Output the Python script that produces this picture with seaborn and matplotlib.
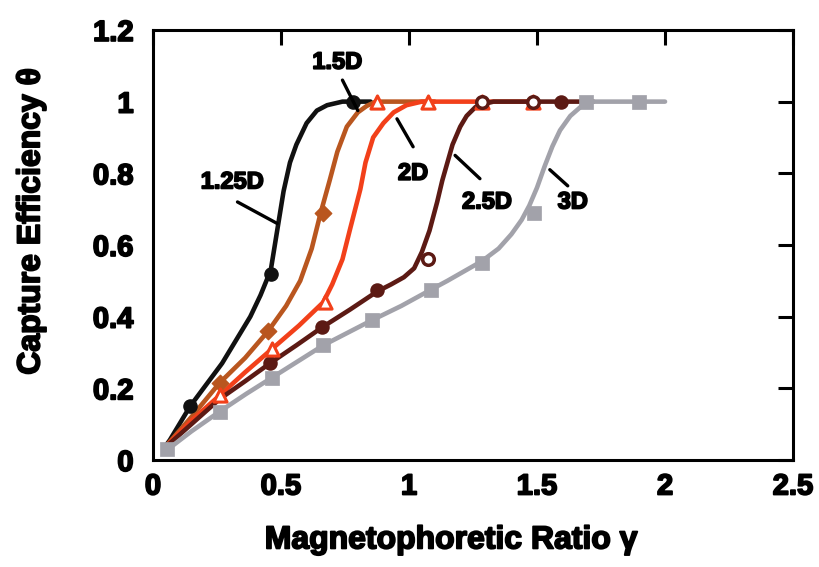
import matplotlib
matplotlib.use("Agg")
import matplotlib.pyplot as plt
import matplotlib.patheffects as pe
import seaborn as sns
import pandas as pd

# ---- data ----
series_names = ["1.25D", "1.5D", "2D", "2.5D", "3D"]
series_colors = ["#111111", "#b9561f", "#f2401a", "#5c1a14", "#a2a2aa"]

# fitted curves
curve_125_x = [0.04, 0.066, 0.145, 0.27, 0.38, 0.42, 0.46, 0.485, 0.51, 0.535, 0.56, 0.60, 0.64, 0.68, 0.74, 0.85]
curve_125_y = [0.03, 0.056, 0.15, 0.27, 0.40, 0.46, 0.53, 0.64, 0.75, 0.83, 0.88, 0.94, 0.975, 0.99, 1.0, 1.0]
curve_15_x = [0.04, 0.15, 0.26, 0.36, 0.45, 0.52, 0.575, 0.62, 0.655, 0.69, 0.72, 0.757, 0.80, 0.835, 0.87, 1.1]
curve_15_y = [0.03, 0.12, 0.215, 0.285, 0.36, 0.43, 0.50, 0.59, 0.69, 0.78, 0.86, 0.93, 0.97, 0.988, 1.0, 1.0]
curve_2_x = [0.04, 0.15, 0.26, 0.36, 0.465, 0.57, 0.665, 0.70, 0.74, 0.77, 0.81, 0.83, 0.86, 0.90, 0.94, 0.99, 1.05, 1.5]
curve_2_y = [0.03, 0.11, 0.18, 0.245, 0.31, 0.375, 0.44, 0.49, 0.56, 0.645, 0.756, 0.83, 0.90, 0.94, 0.97, 0.99, 1.0, 1.0]
curve_25_x = [0.04, 0.15, 0.26, 0.36, 0.457, 0.56, 0.66, 0.77, 0.875, 0.93, 0.98, 1.02, 1.05, 1.08, 1.11, 1.13, 1.17, 1.20, 1.225, 1.26, 1.29, 1.33, 1.72]
curve_25_y = [0.03, 0.10, 0.17, 0.22, 0.27, 0.32, 0.37, 0.42, 0.47, 0.49, 0.51, 0.535, 0.58, 0.64, 0.72, 0.78, 0.88, 0.93, 0.96, 0.985, 0.993, 1.0, 1.0]
curve_3_x = [0.04, 0.15, 0.26, 0.365, 0.465, 0.565, 0.665, 0.76, 0.855, 0.97, 1.085, 1.15, 1.285, 1.35, 1.40, 1.44, 1.47, 1.50, 1.53, 1.56, 1.59, 1.63, 1.67, 1.72, 2.0]
curve_3_y = [0.02, 0.08, 0.135, 0.185, 0.23, 0.275, 0.32, 0.355, 0.39, 0.43, 0.475, 0.50, 0.555, 0.59, 0.63, 0.67, 0.71, 0.76, 0.82, 0.875, 0.92, 0.96, 0.985, 1.0, 1.0]

# data markers
pts_125_x = [0.145, 0.46, 0.78]
pts_125_y = [0.15, 0.52, 1.0]
pts_15_x = [0.26, 0.45, 0.665]
pts_15_y = [0.215, 0.36, 0.69]
pts_2_x = [0.26, 0.465, 0.67, 0.875, 1.075, 1.285, 1.485]
pts_2_y = [0.18, 0.31, 0.44, 1.0, 1.0, 1.0, 1.0]
pts_25_filled_x = [0.457, 0.66, 0.875, 1.595]
pts_25_filled_y = [0.27, 0.37, 0.475, 1.0]
pts_25_open_x = [1.075, 1.285, 1.485]
pts_25_open_y = [0.56, 1.0, 1.0]
pts_3_x = [0.055, 0.26, 0.465, 0.665, 0.855, 1.085, 1.285, 1.49, 1.69, 1.90]
pts_3_y = [0.03, 0.135, 0.23, 0.32, 0.39, 0.475, 0.55, 0.69, 1.0, 1.0]

# labels with leader lines: text position, line start, line end
label_text = ["1.25D", "1.5D", "2D", "2.5D", "3D"]
label_xy = [(0.31, 0.776), (0.72, 1.11), (1.016, 0.80), (1.305, 0.72), (1.64, 0.72)]
leader_from = [(0.33, 0.72), (0.74, 1.06), (0.953, 0.952), (1.18, 0.85), (1.55, 0.81)]
leader_to = [(0.485, 0.66), (0.80, 0.975), (1.016, 0.874), (1.277, 0.785), (1.62, 0.765)]

x_ticks = [0, 0.5, 1, 1.5, 2, 2.5]
x_ticklabels = ["0", "0.5", "1", "1.5", "2", "2.5"]
y_ticks = [0, 0.2, 0.4, 0.6, 0.8, 1.0, 1.2]
y_ticklabels = ["0", "0.2", "0.4", "0.6", "0.8", "1", "1.2"]

# ---- plotting ----
sns.set_theme(style="white")
plt.rcParams["font.family"] = ["Liberation Sans", "DejaVu Sans"]
plt.rcParams["font.weight"] = "bold"
plt.rcParams["text.color"] = "black"
plt.rcParams["axes.labelcolor"] = "black"

heavy = [pe.withStroke(linewidth=1.3, foreground="black")]

fig = plt.figure(figsize=(8.2, 5.67), dpi=100)
ax = fig.add_axes([0.1866, 0.1887, 0.7805, 0.7585])

curves = [(curve_125_x, curve_125_y), (curve_15_x, curve_15_y), (curve_2_x, curve_2_y),
          (curve_25_x, curve_25_y), (curve_3_x, curve_3_y)]
draw_order = [4, 3, 1, 2, 0]
for i in draw_order:
    cx, cy = curves[i]
    df = pd.DataFrame({"x": cx, "y": cy})
    sns.lineplot(data=df, x="x", y="y", sort=False, ax=ax, color=series_colors[i],
                 linewidth=3.3, solid_joinstyle="round", solid_capstyle="round", zorder=2 + i * 0.1)

def scatter(xs, ys, marker, size, face, edge, lw, z):
    df = pd.DataFrame({"x": xs, "y": ys})
    sns.scatterplot(data=df, x="x", y="y", ax=ax, marker=marker, s=size,
                    color=face, edgecolor=edge, linewidth=lw, zorder=z)

scatter(pts_3_x, pts_3_y, "s", 110, series_colors[4], series_colors[4], 0.5, 5)
scatter(pts_25_filled_x, pts_25_filled_y, "o", 80, series_colors[3], series_colors[3], 1.5, 5)
scatter(pts_25_open_x, pts_25_open_y, "o", 70, "white", series_colors[3], 2.5, 6)
scatter(pts_2_x, pts_2_y, "^", 90, "white", series_colors[2], 2.2, 5.5)
scatter(pts_15_x, pts_15_y, "D", 70, series_colors[1], series_colors[1], 1.0, 5)
scatter(pts_125_x, pts_125_y, "o", 90, series_colors[0], series_colors[0], 1.0, 5)

for t, (tx, ty), (fx, fy), (ex, ey) in zip(label_text, label_xy, leader_from, leader_to):
    ax.text(tx, ty, t, ha="center", va="center", fontsize=17, fontweight="bold",
            color="black", zorder=8, path_effects=heavy)
    ax.plot([fx, ex], [fy, ey], color="black", linewidth=2.4, zorder=8, solid_capstyle="round")

ax.set_xlim(0, 2.5)
ax.set_ylim(0, 1.2)
ax.set_xticks(x_ticks)
ax.set_xticklabels(x_ticklabels)
ax.set_yticks(y_ticks)
ax.set_yticklabels(y_ticklabels)
ax.tick_params(axis="both", which="both", direction="in", length=11, width=2.2,
               top=True, right=True, labelsize=21, colors="black")
ax.tick_params(axis="x", pad=9)
ax.tick_params(axis="y", pad=14)
for lab in ax.get_xticklabels() + ax.get_yticklabels():
    lab.set_fontweight("bold")
    lab.set_path_effects(heavy)
for sp in ax.spines.values():
    sp.set_visible(True)
    sp.set_color("black")
    sp.set_linewidth(2.2)

ax.set_xlabel("Magnetophoretic Ratio γ", fontsize=23, fontweight="bold",
              color="black", path_effects=heavy, va="center")
ax.set_ylabel("Capture Efficiency θ", fontsize=23, fontweight="bold",
              color="black", path_effects=heavy, va="center")
ax.xaxis.set_label_coords(0.466, -0.187)
ax.yaxis.set_label_coords(-0.19, 0.555)
ax.grid(False)

fig.savefig("out.png", dpi=100)
